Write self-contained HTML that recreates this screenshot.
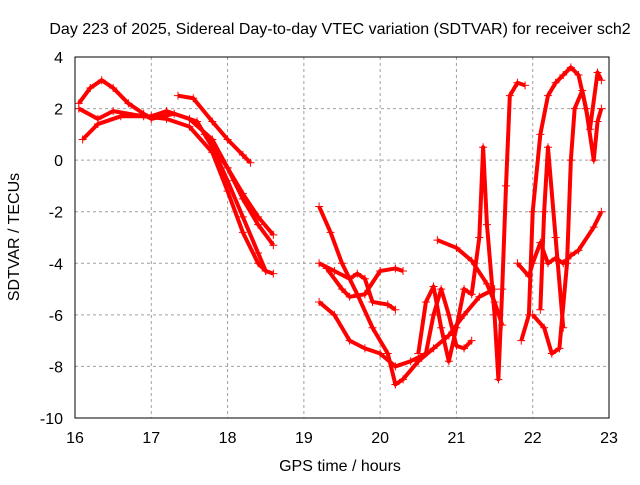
<!DOCTYPE html>
<html><head><meta charset="utf-8"><style>
body{margin:0;background:#fff;width:640px;height:480px;overflow:hidden}
svg text{font-family:"Liberation Sans",sans-serif;font-size:16px;fill:#000}
</style></head><body>
<svg id="chart" width="640" height="480">
<text x="340" y="34" text-anchor="middle">Day 223 of 2025, Sidereal Day-to-day VTEC variation (SDTVAR) for receiver sch2</text>
<text x="340" y="471" text-anchor="middle">GPS time / hours</text>
<text transform="translate(19,237) rotate(-90)" text-anchor="middle">SDTVAR / TECUs</text>
<g id="grid"></g><g id="ticks"></g><g id="series"></g>
<rect x="75" y="57" width="534" height="361" fill="none" stroke="#000" stroke-width="1"/>
</svg>
<script>
const xTicks=[16,17,18,19,20,21,22,23];
const yTicks=[4,2,0,-2,-4,-6,-8,-10];
const s1=[[16.05,2.2],[16.2,2.8],[16.35,3.1],[16.5,2.8],[16.7,2.2],[16.9,1.8],[17.0,1.6],[17.3,1.8],[17.6,1.5],[17.8,0.5],[18.0,-0.8],[18.2,-2.2],[18.4,-3.6],[18.5,-4.3],[18.6,-4.4]];
const s2=[[16.1,0.8],[16.3,1.4],[16.6,1.7],[17.0,1.7],[17.2,1.9],[17.5,1.6],[17.8,0.8],[18.0,-0.3],[18.2,-1.5],[18.4,-2.5],[18.6,-3.3]];
const s3=[[16.05,2.0],[16.3,1.6],[16.5,1.9],[16.9,1.7],[17.2,1.6],[17.5,1.3],[17.8,0.3],[18.0,-1.2],[18.2,-2.8],[18.4,-4.0],[18.5,-4.3]];
const s4=[[17.35,2.5],[17.55,2.4],[17.8,1.5],[18.0,0.8],[18.2,0.2],[18.3,-0.1]];
const s5=[[17.7,1.0],[18.0,-0.3],[18.2,-1.3],[18.4,-2.2],[18.6,-2.9]];
const s6=[[19.2,-1.8],[19.35,-2.8],[19.5,-4.0],[19.7,-5.2],[19.9,-6.5],[20.1,-7.5],[20.2,-8.7],[20.3,-8.5],[20.5,-7.8],[20.7,-7.3],[20.9,-6.8],[21.1,-6.0],[21.3,-5.3],[21.5,-5.0]];
const s7=[[19.2,-4.0],[19.4,-4.3],[19.6,-4.6],[19.7,-4.4],[19.8,-4.6],[19.9,-5.5],[20.1,-5.6],[20.2,-5.8]];
const s8=[[19.2,-5.5],[19.4,-6.0],[19.6,-7.0],[19.8,-7.3],[20.0,-7.5],[20.2,-8.0],[20.4,-7.8],[20.6,-7.5],[20.7,-6.0],[20.8,-5.0],[20.9,-6.0],[21.0,-7.2],[21.1,-7.3],[21.2,-7.0]];
const s9=[[19.3,-4.2],[19.5,-5.0],[19.6,-5.3],[19.8,-5.2],[20.0,-4.3],[20.2,-4.2],[20.3,-4.3]];
const s10=[[20.75,-3.1],[21.0,-3.4],[21.2,-3.9],[21.4,-4.8],[21.5,-5.5],[21.6,-6.4]];
const s11=[[20.5,-7.5],[20.6,-5.5],[20.7,-4.9],[20.8,-6.5],[20.9,-7.8],[21.0,-6.5],[21.1,-5.0],[21.2,-5.2],[21.3,-3.0],[21.35,0.5],[21.4,-2.5],[21.5,-6.0],[21.55,-8.5],[21.6,-5.0],[21.65,-1.0],[21.7,2.5],[21.8,3.0],[21.9,2.9]];
const s12=[[21.8,-4.0],[21.95,-4.5],[22.0,-4.0],[22.1,-3.2],[22.2,-4.0],[22.3,-3.8],[22.4,-4.0],[22.5,-3.7],[22.6,-3.5],[22.8,-2.6],[22.9,-2.0]];
const s13=[[21.85,-7.0],[21.95,-6.0],[22.0,-2.0],[22.1,1.0],[22.2,2.5],[22.3,3.0],[22.4,3.3],[22.5,3.6],[22.6,3.3],[22.7,2.0],[22.8,0.0],[22.85,1.5],[22.9,2.0]];
const s14=[[22.0,-6.0],[22.15,-6.5],[22.25,-7.5],[22.35,-7.3],[22.45,-4.0],[22.5,0.0],[22.55,2.0],[22.65,2.7],[22.75,1.2],[22.85,3.4],[22.9,3.1]];
const s15=[[22.1,-5.8],[22.15,-2.0],[22.2,0.5],[22.3,-3.0],[22.4,-6.5]];
const allSeries=[s1,s2,s3,s4,s5,s6,s7,s8,s9,s10,s11,s12,s13,s14,s15];
const NS="http://www.w3.org/2000/svg";
const X=v=>75+(v-16)*534/7, Y=v=>57+(4-v)*361/14;
const grid=document.getElementById('grid'),ticks=document.getElementById('ticks'),ser=document.getElementById('series');
function mk(t,a){const e=document.createElementNS(NS,t);for(const k in a)e.setAttribute(k,a[k]);return e;}
xTicks.forEach(v=>{
 if(v>16&&v<23){const l=mk('line',{x1:X(v),x2:X(v),y1:57,y2:418,stroke:'#a0a0a0','stroke-dasharray':'3,3'});
 
 grid.appendChild(l);}
 const t=mk('text',{x:X(v),y:443,'text-anchor':'middle'});t.textContent=v;
 
 ticks.appendChild(t);
});
yTicks.forEach(v=>{
 if(v<4&&v>-10){const l=mk('line',{x1:75,x2:609,y1:Y(v),y2:Y(v),stroke:'#a0a0a0','stroke-dasharray':'3,3'});
 
 grid.appendChild(l);}
 const t=mk('text',{x:63,y:Y(v)+6,'text-anchor':'end'});t.textContent=v;
 
 ticks.appendChild(t);
});
allSeries.forEach((s,i)=>{
 const g=mk('g',{});
 
 
 const p=mk('polyline',{points:s.map(d=>X(d[0])+','+Y(d[1])).join(' '),fill:'none',stroke:'#f00','stroke-width':4,'stroke-linejoin':'round'});
 g.appendChild(p);
 s.forEach(d=>{const m=mk('path',{d:`M${X(d[0])-4},${Y(d[1])}h8M${X(d[0])},${Y(d[1])-4}v8`,stroke:'#f00','stroke-width':1});
  
  g.appendChild(m);});
 ser.appendChild(g);
});
</script>
</body></html>
